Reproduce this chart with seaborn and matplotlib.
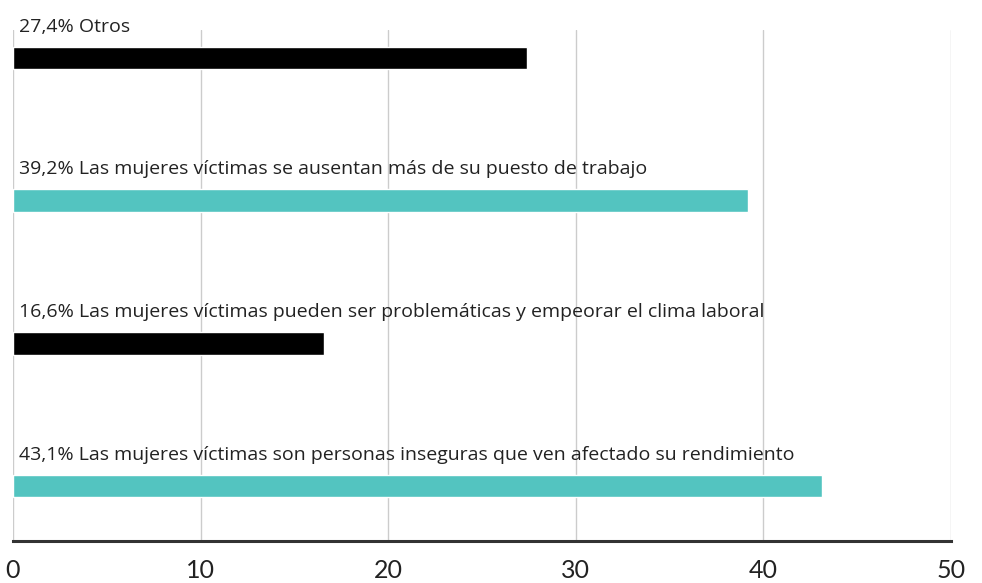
import matplotlib
matplotlib.use("Agg")
import matplotlib.pyplot as plt
import seaborn as sns
import pandas as pd

categories = [
    "Otros",
    "Las mujeres víctimas se ausentan más de su puesto de trabajo",
    "Las mujeres víctimas pueden ser problemáticas y empeorar el clima laboral",
    "Las mujeres víctimas son personas inseguras que ven afectado su rendimiento",
]
values = [27.4, 39.2, 16.6, 43.1]
value_labels = ["27,4%", "39,2%", "16,6%", "43,1%"]
bar_colors = ["#000000", "#53c4c0", "#000000", "#53c4c0"]
x_ticks = [0, 10, 20, 30, 40, 50]

df = pd.DataFrame({"cat": categories, "val": values})

sns.set_theme(style="white")
plt.rcParams["font.family"] = ["Open Sans", "DejaVu Sans"]

fig = plt.figure(figsize=(9.82, 5.83), dpi=100)
ax = fig.add_axes([13 / 982, 42 / 583, 938 / 982, 511 / 583])

sns.barplot(data=df, x="val", y="cat", hue="cat", palette=bar_colors,
            saturation=1, orient="h", width=0.16, legend=False, ax=ax, zorder=3)

ax.set_xlim(0, 50)
ax.set_ylim(3.385, -0.196)
ax.set_xticks(x_ticks)
ax.set_xticklabels([str(t) for t in x_ticks], fontsize=18, color="#222222",
                   family=["Lato", "DejaVu Sans"])
ax.tick_params(axis="x", length=0, pad=13)
ax.set_yticks([])
ax.set_xlabel("")
ax.set_ylabel("")

for t in x_ticks:
    ax.axvline(t, color="#cccccc", lw=1, zorder=1)

for s in ["top", "right", "left"]:
    ax.spines[s].set_visible(False)
ax.spines["bottom"].set_color("#333333")
ax.spines["bottom"].set_linewidth(2.2)
ax.spines["bottom"].set_zorder(4)

for i, (lab, cat) in enumerate(zip(value_labels, categories)):
    ax.annotate(f"{lab} {cat}", xy=(0, i), xytext=(4, 16),
                textcoords="offset points", fontsize=14, color="#222222",
                va="bottom", ha="left", zorder=5)

fig.savefig("out.png", dpi=100)
